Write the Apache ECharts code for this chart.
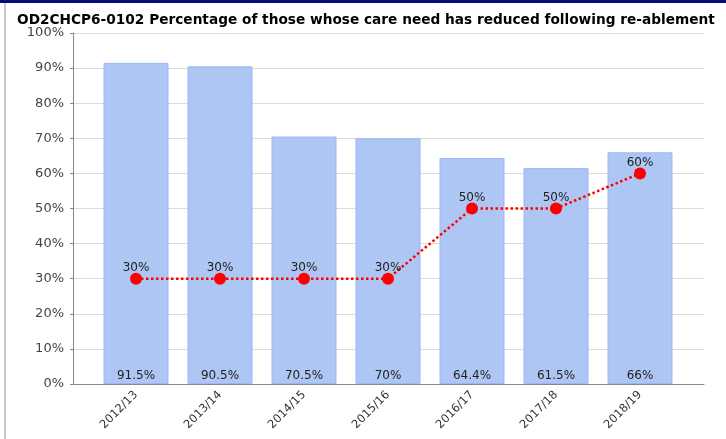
<!DOCTYPE html>
<html>
<head>
<meta charset="utf-8">
<script src="https://cdn.jsdelivr.net/npm/echarts@6/dist/echarts.min.js"></script>
<style>
  html, body { margin: 0; padding: 0; background: #fff; }
  #chart { width: 726px; height: 439px; }
</style>
</head>
<body>
<div id="chart"></div>
<script>
// data
var years = ['2012/13', '2013/14', '2014/15', '2015/16', '2016/17', '2017/18', '2018/19'];
var actual = [91.5, 90.5, 70.5, 70, 64.4, 61.5, 66];
var target = [30, 30, 30, 30, 50, 50, 60];

var chart = echarts.init(document.getElementById('chart'));

var option = {
    animation: false,
    graphic: [
        // navy line at the top and grey edge at the left
        { type: 'rect', left: 0, top: 0, shape: { width: 726, height: 3 }, style: { fill: '#0a0a78' } },
        { type: 'rect', left: 4, top: 3, shape: { width: 2, height: 436 }, style: { fill: '#c8c8c8' } }
    ],
    title: {
        text: 'OD2CHCP6-0102 Percentage of those whose care need has reduced following re-ablement',
        left: 12,
        top: 8,
        textStyle: { fontFamily: 'DejaVu Sans', fontWeight: 'bold', fontSize: 13.7, color: '#000' }
    },
    grid: [
        { left: 73, right: 22, top: 33, bottom: 55 },
        { left: 94, right: 44, top: 33, bottom: 55 }
    ],
    xAxis: [
        {
            gridIndex: 0, type: 'category', data: [''],
            axisLine: { lineStyle: { color: '#888' } },
            axisTick: { show: false }, axisLabel: { show: false }
        },
        {
            gridIndex: 1, type: 'category', data: years,
            axisLine: { show: false },
            axisTick: { alignWithLabel: true, length: 4, lineStyle: { color: '#888' } },
            axisLabel: {
                rotate: 45, fontSize: 11.5, color: '#333', margin: 9,
                fontFamily: 'DejaVu Sans'
            }
        }
    ],
    yAxis: [
        {
            gridIndex: 0, type: 'value', min: 0, max: 100, interval: 10,
            axisLine: { show: true, lineStyle: { color: '#888' } },
            axisTick: { show: true, length: 3, lineStyle: { color: '#888' } },
            axisLabel: {
                formatter: '{value}%', fontSize: 13, color: '#444', margin: 9,
                fontFamily: 'DejaVu Sans'
            },
            splitLine: { lineStyle: { color: '#dcdcdc' } }
        },
        {
            gridIndex: 1, type: 'value', min: 0, max: 100, interval: 10,
            axisLine: { show: false }, axisTick: { show: false },
            axisLabel: { show: false }, splitLine: { show: false }
        }
    ],
    series: [
        {
            name: 'Actual', type: 'bar', xAxisIndex: 1, yAxisIndex: 1,
            data: actual, barWidth: 65,
            itemStyle: { color: '#aec6f4', borderColor: '#9bb7ee', borderWidth: 1 },
            label: {
                show: true, position: 'insideBottom', distance: 2,
                formatter: '{c}%', fontSize: 12, color: '#222',
                fontFamily: 'DejaVu Sans'
            }
        },
        {
            name: 'Target', type: 'line', xAxisIndex: 1, yAxisIndex: 1,
            data: target, symbol: 'circle', symbolSize: 12,
            itemStyle: { color: '#ff0000' },
            lineStyle: { color: '#ff0000', width: 2.5, type: 'dotted' },
            label: {
                show: true, position: 'top', distance: -1,
                formatter: '{c}%', fontSize: 12, color: '#222',
                fontFamily: 'DejaVu Sans'
            }
        }
    ]
};

chart.setOption(option);
</script>
</body>
</html>
